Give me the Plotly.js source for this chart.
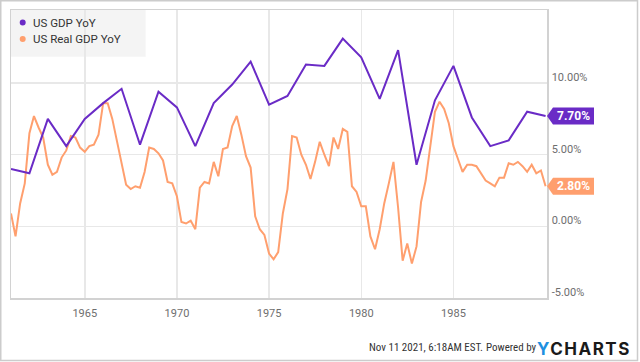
<!DOCTYPE html>
<html><head><meta charset="utf-8">
<script src="https://cdn.plot.ly/plotly-3.0.1.min.js"></script>
<style>html,body{margin:0;padding:0;background:#fff}#chart{width:640px;height:362px}</style>
</head><body><div id="chart"></div>
<script>
// ---- data ----
const seriesNames = ['US GDP YoY', 'US Real GDP YoY'];
const gdpYears = [1960,1961,1962,1963,1964,1965,1966,1967,1968,1969,1970,1971,1972,1973,1974,
                  1975,1976,1977,1978,1979,1980,1981,1982,1983,1984,1985,1986,1987,1988,1989];
const gdpYoY = [4.0,3.7,7.5,5.6,7.5,8.6,9.6,5.7,9.4,8.3,5.6,8.6,9.9,11.5,8.5,
                9.1,11.3,11.2,13.1,11.8,8.9,12.3,4.3,8.8,11.2,7.6,5.6,6.0,8.0,7.7];
// quarterly, first value = 1960 Q4, last = 1989 Q4
const realFirstYear = 1960, realFirstQuarter = 4;
const realGdpYoY = [
  0.9,
  -0.7,1.6,3.0,6.5,   7.7,6.9,6.2,4.3,   3.6,3.8,4.8,5.3,   6.3,6.2,5.5,5.2,
  5.6,5.7,6.4,8.6,    8.6,7.5,5.9,4.4,   2.9,2.6,2.8,2.7,   3.8,5.5,5.4,5.1,
  4.6,3.1,3.0,2.1,    0.3,0.2,0.4,-0.2,  2.7,3.1,3.0,4.5,   3.5,5.4,5.5,7.0,
  7.7,6.4,4.9,4.1,    0.7,-0.2,-0.6,-1.9,-2.3,-1.8,0.9,2.6, 6.3,6.2,5.0,4.3,
  3.3,4.5,5.9,5.0,    4.2,6.2,5.4,6.8,   6.6,2.8,2.4,1.4,   1.4,-0.7,-1.6,-0.2,
  1.6,3.0,4.5,1.3,    -2.4,-1.2,-2.6,-1.4, 1.7,3.2,5.6,8.0, 8.7,8.2,7.2,5.6,
  4.7,3.8,4.3,4.3,    4.2,3.7,3.2,3.0,   2.8,3.4,3.4,4.4,   4.3,4.5,4.2,3.8,
  4.3,3.7,3.9,2.8
];
const xTickYears = [1965,1970,1975,1980,1985];
const yTickValues = [-5,0,5,10];
const footerText = 'Nov 11 2021, 6:18AM EST.';
const poweredText = 'Powered by';

// ---- styling ----
const purple = '#6a2bc6', orange = '#ff9f6e';
const W = 640, H = 362, L = 11, R = 93, T = 10, B = 64;
const pw = W - L - R, ph = H - T - B;
const px = x => (x - L) / pw;
const py = y => 1 - (y - T) / ph;

const gdpDates = gdpYears.map(y => y + '-12-31');
const qEnd = ['03-31','06-30','09-30','12-31'];
const realDates = realGdpYoY.map((v, i) => {
  const q = realFirstYear * 4 + (realFirstQuarter - 1) + i;
  return Math.floor(q / 4) + '-' + qEnd[q % 4];
});

const traces = [
  {x: realDates, y: realGdpYoY, type: 'scatter', mode: 'lines', name: seriesNames[1],
   line: {color: orange, width: 2}, hoverinfo: 'skip'},
  {x: gdpDates, y: gdpYoY, type: 'scatter', mode: 'lines', name: seriesNames[0],
   line: {color: purple, width: 2}, hoverinfo: 'skip'}
];

const lastGdp = gdpYoY[gdpYoY.length - 1];
const lastReal = realGdpYoY[realGdpYoY.length - 1];
const tagPath = 'M0,0 L6,8.5 L47,8.5 L47,-8.5 L6,-8.5 Z';
const baseFont = 'Roboto, Arial, sans-serif';
const condFont = 'Roboto Condensed, Liberation Sans Narrow, Roboto, sans-serif';

const shapes = [
  {type: 'rect', xref: 'paper', yref: 'paper', x0: px(0.75), x1: px(637.5), y0: py(360.5), y1: py(0.75),
   line: {color: '#cccccc', width: 1.5}, fillcolor: 'rgba(0,0,0,0)', layer: 'above'},
  {type: 'rect', xref: 'paper', yref: 'paper', x0: px(11), x1: px(145.7), y0: py(56.7), y1: py(10),
   line: {width: 0}, fillcolor: 'rgba(236,236,236,0.6)', layer: 'below'},
  {type: 'circle', xref: 'paper', yref: 'paper', xsizemode: 'pixel', ysizemode: 'pixel',
   xanchor: px(22.7), yanchor: py(22.5), x0: -3, x1: 3, y0: -3, y1: 3,
   fillcolor: purple, line: {width: 0}},
  {type: 'circle', xref: 'paper', yref: 'paper', xsizemode: 'pixel', ysizemode: 'pixel',
   xanchor: px(22.7), yanchor: py(39), x0: -3, x1: 3, y0: -3, y1: 3,
   fillcolor: orange, line: {width: 0}},
  {type: 'path', xref: 'paper', yref: 'y', xsizemode: 'pixel', ysizemode: 'pixel',
   xanchor: 1, yanchor: lastGdp, path: tagPath, fillcolor: purple, line: {width: 0}, layer: 'above'},
  {type: 'path', xref: 'paper', yref: 'y', xsizemode: 'pixel', ysizemode: 'pixel',
   xanchor: 1, yanchor: lastReal, path: tagPath, fillcolor: orange, line: {width: 0}, layer: 'above'}
];

const annotations = [
  {xref: 'paper', yref: 'paper', x: px(30.5), y: py(22.5), xanchor: 'left', yanchor: 'middle',
   text: seriesNames[0], showarrow: false, font: {family: baseFont, size: 11.5, color: '#333'}},
  {xref: 'paper', yref: 'paper', x: px(30.5), y: py(39), xanchor: 'left', yanchor: 'middle',
   text: seriesNames[1], showarrow: false, font: {family: baseFont, size: 11.5, color: '#333'}},
  {xref: 'paper', yref: 'y', x: 1, xshift: 26.5, y: lastGdp, xanchor: 'center', yanchor: 'middle',
   text: '<b>' + lastGdp.toFixed(2) + '%</b>', showarrow: false,
   font: {family: baseFont, size: 12, color: '#ffffff'}},
  {xref: 'paper', yref: 'y', x: 1, xshift: 26.5, y: lastReal, xanchor: 'center', yanchor: 'middle',
   text: '<b>' + lastReal.toFixed(2) + '%</b>', showarrow: false,
   font: {family: baseFont, size: 12, color: '#ffffff'}},
  {xref: 'paper', yref: 'paper', x: px(366.5), y: py(347.5), xanchor: 'left', yanchor: 'middle',
   text: footerText, showarrow: false, font: {family: condFont, size: 11, color: '#333'}},
  {xref: 'paper', yref: 'paper', x: px(483.5), y: py(347.5), xanchor: 'left', yanchor: 'middle',
   text: poweredText, showarrow: false, font: {family: condFont, size: 11, color: '#333'}},
  {xref: 'paper', yref: 'paper', x: px(534.5), y: py(348.8), xanchor: 'left', yanchor: 'middle',
   text: '<span style="color:#1e90e0;letter-spacing:1.5px">Y</span><span style="letter-spacing:1.5px">CHARTS</span>',
   showarrow: false, font: {family: 'Inter, Roboto, sans-serif', size: 17, color: '#1a1a1a', weight: 700}}
];

const layout = {
  width: W, height: H,
  margin: {l: L, r: R, t: T, b: B, pad: 0},
  paper_bgcolor: '#ffffff', plot_bgcolor: '#ffffff',
  showlegend: false,
  xaxis: {
    type: 'date', range: ['1960-12-31', '1990-01-28'],
    tickvals: xTickYears.map(y => y + '-01-01'), ticktext: xTickYears.map(String),
    showgrid: true, gridcolor: '#e8e8e8', gridwidth: 1.5,
    showline: true, linecolor: '#d2d2d2', linewidth: 1.5, mirror: true,
    ticks: '', zeroline: false, ticklabelstandoff: 4,
    tickfont: {family: baseFont, size: 11, color: '#6e6e6e'}
  },
  yaxis: {
    side: 'right', range: [-5, 15.1],
    tickvals: yTickValues, ticktext: yTickValues.map(v => v.toFixed(2) + '%'),
    showgrid: true, gridcolor: '#e8e8e8', gridwidth: 1.5,
    showline: true, linecolor: '#d2d2d2', linewidth: 1.5, mirror: true,
    ticks: '', zeroline: false, ticklabelshift: -6, ticklabelstandoff: 1,
    tickfont: {family: baseFont, size: 11, color: '#6e6e6e'}
  },
  shapes: shapes,
  annotations: annotations
};

Plotly.newPlot('chart', traces, layout, {staticPlot: true, displayModeBar: false});
</script>
</body></html>
